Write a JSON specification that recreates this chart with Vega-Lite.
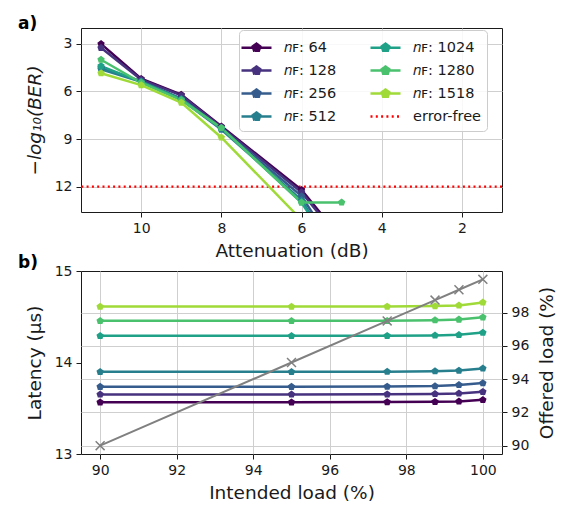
{
  "$schema": "https://vega.github.io/schema/vega-lite/v6.json",
  "background": "white",
  "padding": {"left": 17, "top": 14, "right": 4, "bottom": 2},
  "bounds": "flush",
  "spacing": 59,
  "config": {
    "font": "DejaVu Sans",
    "view": {"stroke": "#1a1a1a", "strokeWidth": 1},
    "axis": {
      "labelFont": "DejaVu Sans", "labelFontSize": 14, "labelColor": "#1a1a1a",
      "titleFont": "DejaVu Sans", "titleFontSize": 18.5, "titleFontWeight": "normal", "titleColor": "#1a1a1a",
      "tickColor": "#1a1a1a", "tickSize": 5, "tickWidth": 1,
      "domain": false, "gridColor": "#cfcfcf", "gridWidth": 1, "labelPadding": 4, "titlePadding": 6
    },
    "title": {"font": "DejaVu Sans", "fontSize": 17, "fontWeight": "bold", "color": "#000000", "anchor": "start", "frame": "group", "baseline": "bottom", "offset": 0}
  },
  "datasets": {
    "ber": [
      {"nF": "64", "att": 11, "ber": 3.0}, {"nF": "64", "att": 10, "ber": 5.2}, {"nF": "64", "att": 9, "ber": 6.2}, {"nF": "64", "att": 8, "ber": 8.2}, {"nF": "64", "att": 6, "ber": 12.2}, {"nF": "64", "att": 5, "ber": 15.3},
      {"nF": "128", "att": 11, "ber": 3.25}, {"nF": "128", "att": 10, "ber": 5.25}, {"nF": "128", "att": 9, "ber": 6.25}, {"nF": "128", "att": 8, "ber": 8.25}, {"nF": "128", "att": 6, "ber": 12.35}, {"nF": "128", "att": 5, "ber": 15.5},
      {"nF": "256", "att": 11, "ber": 4.5}, {"nF": "256", "att": 10, "ber": 5.35}, {"nF": "256", "att": 9, "ber": 6.45}, {"nF": "256", "att": 8, "ber": 8.35}, {"nF": "256", "att": 6, "ber": 12.6}, {"nF": "256", "att": 5, "ber": 16.5},
      {"nF": "512", "att": 11, "ber": 4.6}, {"nF": "512", "att": 10, "ber": 5.4}, {"nF": "512", "att": 9, "ber": 6.5}, {"nF": "512", "att": 8, "ber": 8.4}, {"nF": "512", "att": 6, "ber": 12.85}, {"nF": "512", "att": 5, "ber": 16.9},
      {"nF": "1024", "att": 11, "ber": 4.4}, {"nF": "1024", "att": 10, "ber": 5.4}, {"nF": "1024", "att": 9, "ber": 6.5}, {"nF": "1024", "att": 8, "ber": 8.3}, {"nF": "1024", "att": 6, "ber": 13.0}, {"nF": "1024", "att": 5, "ber": 16.9},
      {"nF": "1280", "att": 11, "ber": 4.0}, {"nF": "1280", "att": 10, "ber": 5.45}, {"nF": "1280", "att": 9, "ber": 6.55}, {"nF": "1280", "att": 8, "ber": 8.3}, {"nF": "1280", "att": 6, "ber": 13.0}, {"nF": "1280", "att": 5, "ber": 13.0},
      {"nF": "1518", "att": 11, "ber": 4.85}, {"nF": "1518", "att": 10, "ber": 5.6}, {"nF": "1518", "att": 9, "ber": 6.7}, {"nF": "1518", "att": 8, "ber": 8.9}, {"nF": "1518", "att": 6, "ber": 14.1}
    ],
    "lat": [
      {"nF": "64", "load": 90, "lat": 13.565}, {"nF": "64", "load": 95, "lat": 13.565}, {"nF": "64", "load": 97.5, "lat": 13.568}, {"nF": "64", "load": 98.75, "lat": 13.571}, {"nF": "64", "load": 99.375, "lat": 13.575}, {"nF": "64", "load": 100, "lat": 13.592},
      {"nF": "128", "load": 90, "lat": 13.651}, {"nF": "128", "load": 95, "lat": 13.651}, {"nF": "128", "load": 97.5, "lat": 13.653}, {"nF": "128", "load": 98.75, "lat": 13.656}, {"nF": "128", "load": 99.375, "lat": 13.662}, {"nF": "128", "load": 100, "lat": 13.68},
      {"nF": "256", "load": 90, "lat": 13.735}, {"nF": "256", "load": 95, "lat": 13.735}, {"nF": "256", "load": 97.5, "lat": 13.737}, {"nF": "256", "load": 98.75, "lat": 13.742}, {"nF": "256", "load": 99.375, "lat": 13.755}, {"nF": "256", "load": 100, "lat": 13.775},
      {"nF": "512", "load": 90, "lat": 13.898}, {"nF": "512", "load": 95, "lat": 13.898}, {"nF": "512", "load": 97.5, "lat": 13.9}, {"nF": "512", "load": 98.75, "lat": 13.905}, {"nF": "512", "load": 99.375, "lat": 13.912}, {"nF": "512", "load": 100, "lat": 13.935},
      {"nF": "1024", "load": 90, "lat": 14.291}, {"nF": "1024", "load": 95, "lat": 14.291}, {"nF": "1024", "load": 97.5, "lat": 14.292}, {"nF": "1024", "load": 98.75, "lat": 14.296}, {"nF": "1024", "load": 99.375, "lat": 14.302}, {"nF": "1024", "load": 100, "lat": 14.327},
      {"nF": "1280", "load": 90, "lat": 14.455}, {"nF": "1280", "load": 95, "lat": 14.455}, {"nF": "1280", "load": 97.5, "lat": 14.456}, {"nF": "1280", "load": 98.75, "lat": 14.462}, {"nF": "1280", "load": 99.375, "lat": 14.47}, {"nF": "1280", "load": 100, "lat": 14.494},
      {"nF": "1518", "load": 90, "lat": 14.611}, {"nF": "1518", "load": 95, "lat": 14.611}, {"nF": "1518", "load": 97.5, "lat": 14.612}, {"nF": "1518", "load": 98.75, "lat": 14.617}, {"nF": "1518", "load": 99.375, "lat": 14.624}, {"nF": "1518", "load": 100, "lat": 14.656}
    ],
    "off": [
      {"load": 90, "offered": 90}, {"load": 95, "offered": 95}, {"load": 97.5, "offered": 97.5}, {"load": 98.75, "offered": 98.75}, {"load": 99.375, "offered": 99.375}, {"load": 100, "offered": 100}
    ]
  },
  "resolve": {"scale": {"color": "independent"}},
  "vconcat": [
    {
      "width": 421, "height": 184,
      "title": {"text": "a)", "dx": -63, "dy": 9},
      "layer": [
        {
          "data": {"values": [{"nF": "error-free", "ber": 12}]},
          "mark": {"type": "rule", "strokeWidth": 2.2, "strokeDash": [2, 3.3]},
          "encoding": {
            "y": {"field": "ber", "type": "quantitative", "scale": {"domain": [2, 13.6], "reverse": true, "nice": false, "zero": false}, "axis": {"values": [3, 6, 9, 12], "title": "−log₁₀(BER)", "titleFontStyle": "italic", "grid": true, "titlePadding": 7, "minExtent": 30, "maxExtent": 30}},
            "color": {"field": "nF", "type": "nominal"}
          }
        },
        {
          "data": {"name": "ber"},
          "encoding": {
            "x": {"field": "att", "type": "quantitative", "scale": {"domain": [1, 11.5], "reverse": true, "nice": false, "zero": false}, "axis": {"values": [10, 8, 6, 4, 2], "title": "Attenuation (dB)", "grid": true}},
            "y": {"field": "ber", "type": "quantitative", "scale": {"domain": [2, 13.6], "reverse": true, "nice": false, "zero": false}, "axis": {"values": [3, 6, 9, 12], "title": "−log₁₀(BER)", "titleFontStyle": "italic", "grid": true, "titlePadding": 7, "minExtent": 30, "maxExtent": 30}},
            "color": {
              "field": "nF", "type": "nominal",
              "scale": {"domain": ["64", "128", "256", "512", "1024", "1280", "1518", "error-free"], "range": ["#440154", "#46327e", "#365c8d", "#277f8e", "#1fa187", "#4ac16d", "#a0da39", "#ff0000"]},
              "legend": {
                "title": null, "orient": "none", "legendX": 158, "legendY": 2, "columns": 2, "columnPadding": 28, "rowPadding": 3,
                "symbolSize": 400, "symbolStrokeWidth": 2.5, "symbolType": "M-1.5,0L1.5,0",
                "labelFont": "DejaVu Sans", "labelFontSize": 14.5, "labelColor": "#1a1a1a", "labelOffset": 16,
                "fillColor": "rgba(255,255,255,0.85)", "strokeColor": "#cccccc", "cornerRadius": 4, "padding": 6,
                "labelExpr": "datum.value == 'error-free' ? 'error-free' : '𝑛ꜰ: ' + datum.value",
                "encode": {
                  "symbols": {
                    "update": {
                      "shape": {"signal": "datum.value == 'error-free' ? 'M-1.5,0L1.5,0' : 'M-1.5,0L1.5,0M0,-0.4L0.38,-0.124L0.235,0.324L-0.235,0.324L-0.38,-0.124Z'"},
                      "strokeDash": {"signal": "datum.value == 'error-free' ? [2, 3.3] : [1, 0]"},
                      "fill": {"signal": "['#440154','#46327e','#365c8d','#277f8e','#1fa187','#4ac16d','#a0da39','#ff0000'][indexof(['64','128','256','512','1024','1280','1518','error-free'], datum.value)]"},
                      "fillOpacity": {"value": 1},
                      "opacity": {"value": 1}
                    }
                  }
                }
              }
            }
          },
          "layer": [
            {"mark": {"type": "line", "strokeWidth": 2.5, "clip": true}},
            {"mark": {"type": "point", "filled": true, "opacity": 1, "size": 60, "clip": true, "shape": "M0,-1L0.951,-0.309L0.588,0.809L-0.588,0.809L-0.951,-0.309Z"}}
          ]
        }
      ]
    },
    {
      "width": 421, "height": 183,
      "title": {"text": "b)", "dx": -63, "dy": 12},
      "layer": [
        {
          "data": {"name": "lat"},
          "encoding": {
            "x": {"field": "load", "type": "quantitative", "scale": {"domain": [89.5, 100.5], "nice": false, "zero": false}, "axis": {"values": [90, 92, 94, 96, 98, 100], "title": "Intended load (%)", "grid": true}},
            "y": {"field": "lat", "type": "quantitative", "scale": {"domain": [13, 15], "nice": false, "zero": false}, "axis": {"values": [13, 14, 15], "format": ".0f", "title": "Latency (μs)", "grid": false, "orient": "left", "titlePadding": 7, "minExtent": 30, "maxExtent": 30}},
            "color": {
              "field": "nF", "type": "nominal", "legend": null,
              "scale": {"domain": ["64", "128", "256", "512", "1024", "1280", "1518"], "range": ["#440154", "#46327e", "#365c8d", "#277f8e", "#1fa187", "#4ac16d", "#a0da39"]}
            }
          },
          "layer": [
            {"mark": {"type": "line", "strokeWidth": 2.5}},
            {"mark": {"type": "point", "filled": true, "opacity": 1, "size": 60, "shape": "M0,-1L0.951,-0.309L0.588,0.809L-0.588,0.809L-0.951,-0.309Z"}}
          ]
        },
        {
          "data": {"name": "off"},
          "encoding": {
            "x": {"field": "load", "type": "quantitative", "scale": {"domain": [89.5, 100.5], "nice": false, "zero": false}, "axis": {"values": [90, 92, 94, 96, 98, 100], "title": "Intended load (%)", "grid": true}},
            "y": {"field": "offered", "type": "quantitative", "scale": {"domain": [89.5, 100.5], "nice": false, "zero": false}, "axis": {"values": [90, 92, 94, 96, 98], "title": "Offered load (%)", "grid": true, "orient": "right", "titleAngle": 270, "titleBaseline": "top", "titlePadding": 7, "minExtent": 28, "maxExtent": 28}}
          },
          "layer": [
            {"mark": {"type": "line", "strokeWidth": 2, "color": "#808080"}},
            {"mark": {"type": "point", "filled": false, "opacity": 1, "size": 80, "strokeWidth": 1.5, "color": "#808080", "shape": "M-1,-1L1,1M1,-1L-1,1"}}
          ]
        }
      ],
      "resolve": {"scale": {"y": "independent"}}
    }
  ]
}
